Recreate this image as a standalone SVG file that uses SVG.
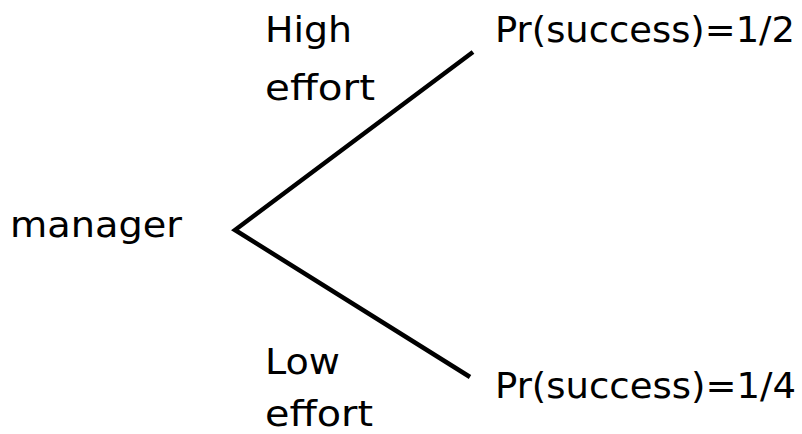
<svg xmlns="http://www.w3.org/2000/svg" width="802" height="434" viewBox="0 0 802 434">
<style>
text{font-family:"DejaVu Sans","Liberation Sans",sans-serif;font-size:36px;fill:#000}
.edge{stroke:#000;stroke-width:4.5;fill:none;stroke-linecap:butt;stroke-linejoin:miter}
</style>
<rect width="802" height="434" fill="#fff"/>
<g id="connectors">
<polyline class="edge" points="473,52 235,230 470,377"/>
</g>
<g id="node-manager"><text x="10" y="237" textLength="172" lengthAdjust="spacingAndGlyphs">manager</text></g>
<g id="label-high"><text x="265" y="42" textLength="87" lengthAdjust="spacingAndGlyphs">High</text><text x="265" y="100" textLength="110" lengthAdjust="spacingAndGlyphs">effort</text></g>
<g id="label-low"><text x="265" y="374" textLength="75" lengthAdjust="spacingAndGlyphs">Low</text><text x="265" y="426" textLength="108" lengthAdjust="spacingAndGlyphs">effort</text></g>
<g id="node-high"><text x="495" y="42" textLength="300" lengthAdjust="spacingAndGlyphs">Pr(success)=1/2</text></g>
<g id="node-low"><text x="495" y="398" textLength="301" lengthAdjust="spacingAndGlyphs">Pr(success)=1/4</text></g>
</svg>
